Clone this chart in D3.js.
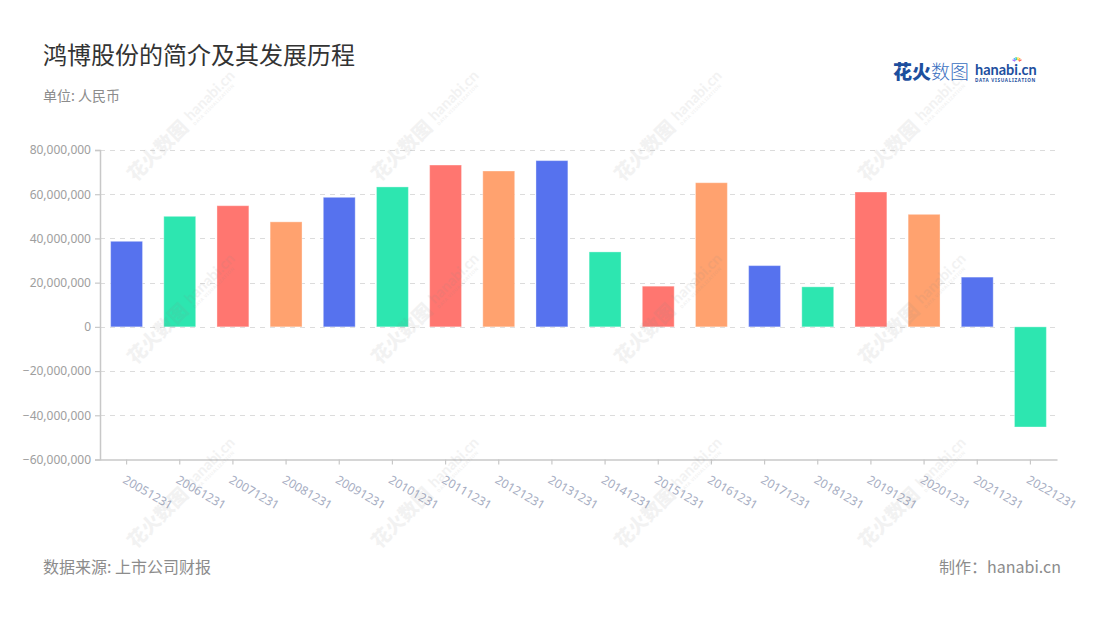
<!DOCTYPE html>
<html>
<head>
<meta charset="utf-8">
<script src="https://cdn.jsdelivr.net/npm/d3@7"></script>
<style>
  html, body { margin: 0; padding: 0; background: #fff; }
  svg { display: block; font-family: "Noto Sans CJK SC", "Noto Sans", sans-serif; }
</style>
</head>
<body>
<svg id="chart" width="1100" height="620"></svg>
<script>
const categories = ["20051231","20061231","20071231","20081231","20091231","20101231","20111231","20121231","20131231","20141231","20151231","20161231","20171231","20181231","20191231","20201231","20211231","20221231"];
const values = [38700000, 50000000, 54800000, 47500000, 58600000, 63300000, 73200000, 70500000, 75200000, 33900000, 18400000, 65200000, 27700000, 18100000, 61000000, 50900000, 22500000, -45300000];
const yTicks = [-60000000, -40000000, -20000000, 0, 20000000, 40000000, 60000000, 80000000];
const palette = ["#5672EE", "#2DE6B0", "#FF7670", "#FFA26F"];
const titleText = "鸿博股份的简介及其发展历程";
const unitText = "单位: 人民币";
const sourceText = "数据来源: 上市公司财报";
const makerText = "制作：hanabi.cn";

const svg = d3.select("#chart");
const plotLeft = 100, plotRight = 1057, plotTop = 150, plotBottom = 459.5;

const x = d3.scaleBand().domain(categories).range([plotLeft, plotRight]).paddingInner(0.4).paddingOuter(0.2);
const y = d3.scaleLinear().domain([-60000000, 80000000]).range([plotBottom, plotTop]);
const tickX = c => x(c) + x.bandwidth() / 2;

// title
svg.append("text").attr("x", 43).attr("y", 64).attr("font-size", 24).attr("fill", "#333").text(titleText);
svg.append("text").attr("x", 43).attr("y", 101).attr("font-size", 14).attr("fill", "#8c8c8c").text(unitText);

// grid lines
svg.append("g").selectAll("line").data(yTicks.filter(v => v !== -60000000)).join("line")
  .attr("x1", plotLeft).attr("x2", plotRight)
  .attr("y1", d => Math.round(y(d)) + 0.5).attr("y2", d => Math.round(y(d)) + 0.5)
  .attr("stroke", "#dcdcdc").attr("stroke-dasharray", "5,5").attr("stroke-width", 1);

// bars
svg.append("g").selectAll("rect").data(values).join("rect")
  .attr("x", (d, i) => x(categories[i]))
  .attr("width", x.bandwidth())
  .attr("y", d => y(Math.max(0, d)))
  .attr("height", d => Math.abs(y(d) - y(0)))
  .attr("fill", (d, i) => palette[i % 4])
  .attr("stroke", "rgba(255,255,255,0.35)")
  .attr("stroke-width", 1);

// y axis
const yAxis = d3.axisLeft(y).tickValues(yTicks).tickFormat(d3.format(",")).tickSize(5).tickPadding(4);
const gy = svg.append("g").attr("transform", `translate(${plotLeft},0)`).call(yAxis);
gy.select(".domain").attr("stroke", "#c8c8c8").attr("stroke-width", 1.5);
gy.selectAll(".tick line").attr("stroke", "#c8c8c8").attr("stroke-width", 1.2);
gy.selectAll(".tick text").attr("fill", "#9e9e9e").attr("font-size", 12)
  .attr("font-family", "\"Noto Sans\", \"Noto Sans CJK SC\", sans-serif");

// x axis
const xAxis = d3.axisBottom(x).tickSize(5).tickSizeOuter(0).tickFormat("");
const gx = svg.append("g").attr("transform", `translate(0,${plotBottom})`).call(xAxis);
gx.select(".domain").attr("stroke", "#c8c8c8").attr("stroke-width", 1.5);
gx.selectAll(".tick line").attr("stroke", "#c8c8c8").attr("stroke-width", 1.2);

svg.append("g").selectAll("text").data(categories).join("text")
  .attr("transform", d => `translate(${tickX(d) - 3},${plotBottom + 20}) rotate(30)`)
  .attr("text-anchor", "start")
  .attr("dominant-baseline", "middle")
  .attr("font-size", 12)
  .attr("fill", "#a6adc2")
  .attr("font-family", "\"Noto Sans\", \"Noto Sans CJK SC\", sans-serif")
  .text(d => d);

// footer
svg.append("text").attr("x", 43).attr("y", 573).attr("font-size", 16).attr("fill", "#8c8c8c").text(sourceText);
svg.append("text").attr("x", 1061).attr("y", 573).attr("text-anchor", "end").attr("font-size", 16).attr("fill", "#8c8c8c").text(makerText);

// logo
const logo = svg.append("g");
logo.append("text").attr("x", 893).attr("y", 79).attr("font-size", 19).attr("font-weight", 900).attr("fill", "#1d4f9e").text("花火");
logo.append("text").attr("x", 931).attr("y", 79).attr("font-size", 19).attr("font-weight", 300).attr("fill", "#3a6fbf").text("数图");
logo.append("text").attr("x", 975).attr("y", 75).attr("font-size", 14.5).attr("font-weight", 700).attr("fill", "#1d4f9e")
  .attr("font-family", "Lato, \"Noto Sans\", sans-serif").text("hanabi.cn");
logo.append("text").attr("x", 975).attr("y", 82).attr("font-size", 4.6).attr("font-weight", 700).attr("fill", "#1d4f9e")
  .attr("letter-spacing", 0.7).attr("font-family", "\"Noto Sans\", sans-serif").text("DATA VISUALIZATION");
const sparkColors = ["#ff5b5b", "#ffb43b", "#ffe14a", "#3ad29f", "#4aa8ff", "#a86cff"];
logo.append("g").selectAll("line").data(sparkColors).join("line")
  .attr("x1", (d, i) => 1017 + Math.cos(-Math.PI * (0.15 + i * 0.14)) * 2)
  .attr("y1", (d, i) => 62 + Math.sin(-Math.PI * (0.15 + i * 0.14)) * 2)
  .attr("x2", (d, i) => 1017 + Math.cos(-Math.PI * (0.15 + i * 0.14)) * 5)
  .attr("y2", (d, i) => 62 + Math.sin(-Math.PI * (0.15 + i * 0.14)) * 5)
  .attr("stroke", d => d).attr("stroke-width", 1.3);

// watermarks
const wmCols = [183, 427, 670, 914];
const wmRows = [125, 308, 492];
const wm = svg.append("g").attr("pointer-events", "none");
wmRows.forEach(cy => wmCols.forEach(cx => {
  const g = wm.append("g").attr("transform", `translate(${cx},${cy}) rotate(-45)`).attr("fill", "#8a8a8a").attr("opacity", 0.1);
  g.append("text").attr("x", -74).attr("y", 7).attr("font-size", 19).attr("font-weight", 900).text("花火数图");
  g.append("text").attr("x", 8).attr("y", 3).attr("font-size", 15).attr("font-weight", 700)
    .attr("font-family", "Lato, \"Noto Sans\", sans-serif").text("hanabi.cn");
  g.append("text").attr("x", 8).attr("y", 9).attr("font-size", 4.5).attr("font-weight", 700)
    .attr("font-family", "\"Noto Sans\", sans-serif").attr("letter-spacing", 0.5).text("DATA VISUALIZATION");
}));
</script>
</body>
</html>
